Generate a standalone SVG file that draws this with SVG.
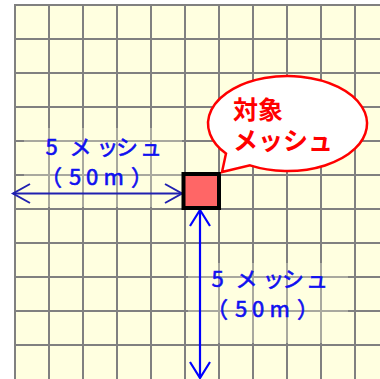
<svg xmlns="http://www.w3.org/2000/svg" width="380" height="379" viewBox="0 0 380 379">
  <style>
    .grid line { stroke: #808080; stroke-width: 2; }
    .veil { fill: #FFFFE0; opacity: 0.32; }
    .lbl { font-family: "Noto Sans CJK JP", "Noto Sans", sans-serif; font-size: 22px; fill: #1010F0; stroke: #1010F0; stroke-width: 0.6; }
    .callout { font-family: "Noto Sans CJK JP", "Noto Sans", sans-serif; font-size: 25px; font-weight: bold; fill: #FF0000; }
  </style>
  <defs>
    <marker id="headH" markerUnits="userSpaceOnUse" orient="auto-start-reverse" refX="0" refY="0" markerWidth="24" markerHeight="24" viewBox="-20 -12 22 24" style="overflow:visible">
      <path d="M-17,-9.5 L0,0 L-17,9.5" fill="none" stroke="#2020B0" stroke-width="2"/>
    </marker>
    <marker id="headV" markerUnits="userSpaceOnUse" orient="auto-start-reverse" refX="0" refY="0" markerWidth="24" markerHeight="24" viewBox="-20 -12 22 24" style="overflow:visible">
      <path d="M-16,-10 L0,0 L-16,10" fill="none" stroke="#0000FF" stroke-width="2.2"/>
    </marker>
  </defs>
  <rect width="380" height="379" fill="#FFFFFF"/>
  <rect x="14" y="4" width="366" height="375" fill="#FFFFE0"/>
  <g id="grid" class="grid">
    <line x1="15" y1="4" x2="15" y2="379"/>
    <line x1="49" y1="4" x2="49" y2="379"/>
    <line x1="83" y1="4" x2="83" y2="379"/>
    <line x1="117" y1="4" x2="117" y2="379"/>
    <line x1="151" y1="4" x2="151" y2="379"/>
    <line x1="185" y1="4" x2="185" y2="379"/>
    <line x1="219" y1="4" x2="219" y2="379"/>
    <line x1="253" y1="4" x2="253" y2="379"/>
    <line x1="287" y1="4" x2="287" y2="379"/>
    <line x1="321" y1="4" x2="321" y2="379"/>
    <line x1="355" y1="4" x2="355" y2="379"/>
    <line x1="14" y1="5" x2="380" y2="5"/>
    <line x1="14" y1="39" x2="380" y2="39"/>
    <line x1="14" y1="73" x2="380" y2="73"/>
    <line x1="14" y1="107" x2="380" y2="107"/>
    <line x1="14" y1="141" x2="380" y2="141"/>
    <line x1="14" y1="175" x2="380" y2="175"/>
    <line x1="14" y1="209" x2="380" y2="209"/>
    <line x1="14" y1="243" x2="380" y2="243"/>
    <line x1="14" y1="277" x2="380" y2="277"/>
    <line x1="14" y1="311" x2="380" y2="311"/>
    <line x1="14" y1="345" x2="380" y2="345"/>
  </g>
  <g id="label-left">
    <rect class="veil" x="24" y="128" width="158" height="79"/>
    <text class="lbl" x="45.5 58 69.5 96.5 116 140" y="155">5 メッシュ</text>
    <text class="lbl" x="40 69 86 103.5 131" y="185">（50m）</text>
  </g>
  <g id="label-bottom">
    <rect class="veil" x="188" y="263" width="160" height="80"/>
    <text class="lbl" x="211.5 224 235.5 262.5 282 306" y="287">5 メッシュ</text>
    <text class="lbl" x="206 235 252 269.5 297" y="317">（50m）</text>
  </g>
  <g id="connectors">
    <line x1="13" y1="193.5" x2="182" y2="193.5" stroke="#2020B0" stroke-width="2" marker-start="url(#headH)" marker-end="url(#headH)"/>
    <line x1="200" y1="210" x2="200" y2="378" stroke="#0000FF" stroke-width="2.2" marker-start="url(#headV)" marker-end="url(#headV)"/>
  </g>
  <g id="target-mesh">
    <rect x="183.5" y="174" width="35.5" height="34" fill="#FF6666" stroke="#000000" stroke-width="4"/>
  </g>
  <g id="callout">
    <path d="M226,153.6 L222,172 L250,165.4 A79.5,47.5 0 1 0 226,153.6 Z" fill="#FFFFFF" stroke="#FF0000" stroke-width="2.5" stroke-linejoin="miter"/>
    <text class="callout"><tspan x="233" y="119">対象</tspan><tspan x="233" y="149.5">メッシュ</tspan></text>
  </g>
</svg>
